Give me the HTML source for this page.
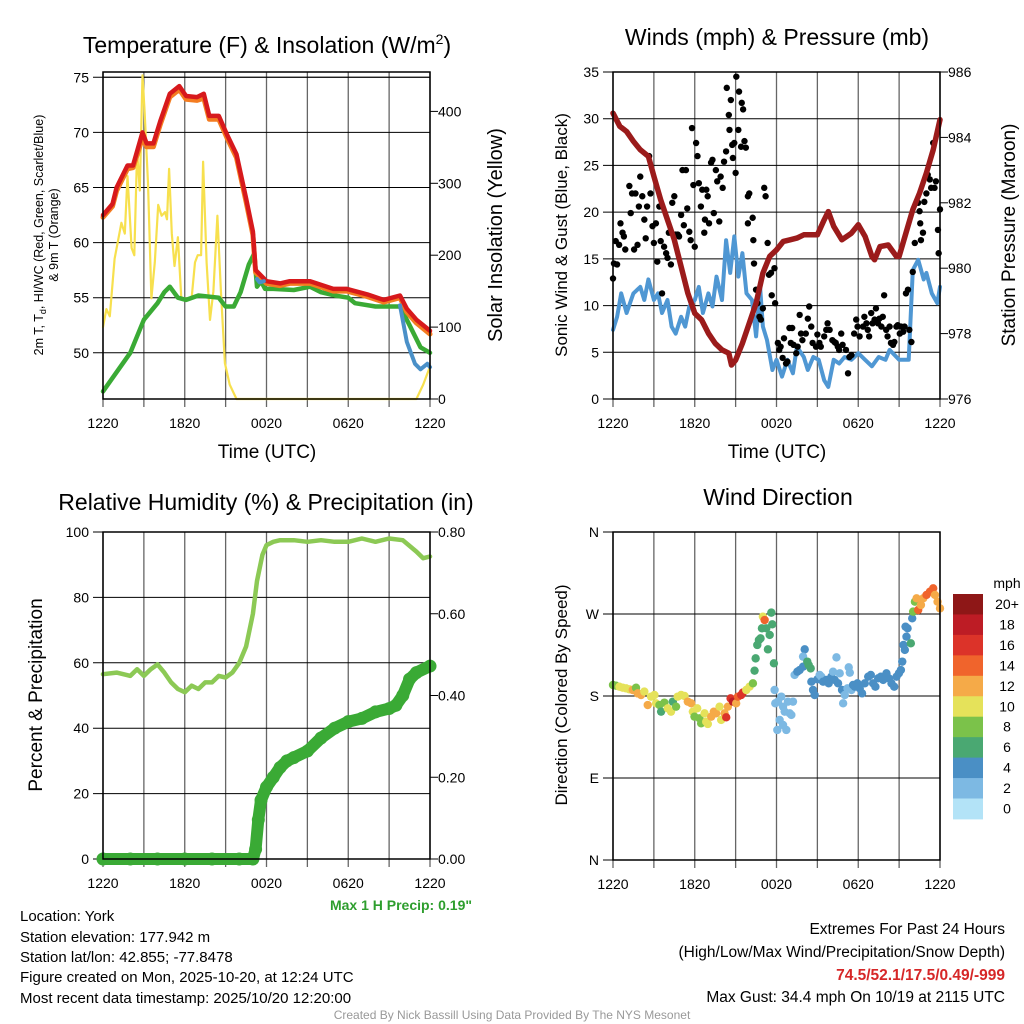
<!DOCTYPE html>
<html><head><meta charset="utf-8"><style>
body{margin:0;background:#fff}
svg{display:block;font-family:"Liberation Sans",sans-serif}
</style></head><body>
<svg id="chart" width="1024" height="1024" viewBox="0 0 1024 1024">
<g id="grid"></g><g id="marks"></g><g id="labels"></g>
<text x="267" y="53" font-size="23" text-anchor="middle">Temperature (F) &amp; Insolation (W/m<tspan font-size="14" dy="-9">2</tspan><tspan dy="9">)</tspan></text>
<text x="777" y="45" font-size="23" text-anchor="middle">Winds (mph) &amp; Pressure (mb)</text>
<text x="266" y="510" font-size="23" text-anchor="middle">Relative Humidity (%) &amp; Precipitation (in)</text>
<text x="778" y="505" font-size="23" text-anchor="middle">Wind Direction</text>
<text transform="translate(43,235) rotate(-90)" font-size="12.5" text-anchor="middle">2m T, T<tspan font-size="9" dy="3">d</tspan><tspan dy="-3">, HI/WC (Red, Green, Scarlet/Blue)</tspan></text>
<text transform="translate(58,235) rotate(-90)" font-size="12.5" text-anchor="middle">&amp; 9m T (Orange)</text>
<text transform="translate(502,235) rotate(-90)" font-size="20" text-anchor="middle">Solar Insolation (Yellow)</text>
<text transform="translate(567,235) rotate(-90)" font-size="17" text-anchor="middle">Sonic Wind &amp; Gust (Blue, Black)</text>
<text transform="translate(1015,235) rotate(-90)" font-size="19" text-anchor="middle">Station Pressure (Maroon)</text>
<text transform="translate(42,695) rotate(-90)" font-size="19" text-anchor="middle">Percent &amp; Precipitation</text>
<text transform="translate(567,695) rotate(-90)" font-size="17" text-anchor="middle">Direction (Colored By Speed)</text>
<text x="267" y="458" font-size="19" text-anchor="middle">Time (UTC)</text>
<text x="777" y="458" font-size="19" text-anchor="middle">Time (UTC)</text>
<text x="472" y="910" font-size="14" font-weight="bold" fill="#2e9e2e" text-anchor="end">Max 1 H Precip: 0.19"</text>
<g font-size="15">
<text x="20" y="921">Location: York</text>
<text x="20" y="942">Station elevation: 177.942 m</text>
<text x="20" y="962">Station lat/lon: 42.855; -77.8478</text>
<text x="20" y="982">Figure created on Mon, 2025-10-20, at 12:24 UTC</text>
<text x="20" y="1003">Most recent data timestamp: 2025/10/20 12:20:00</text>
</g>
<g font-size="15.5" text-anchor="end">
<text x="1005" y="934">Extremes For Past 24 Hours</text>
<text x="1005" y="957">(High/Low/Max Wind/Precipitation/Snow Depth)</text>
<text x="1005" y="980" fill="#d62728" font-weight="bold">74.5/52.1/17.5/0.49/-999</text>
<text x="1005" y="1002">Max Gust: 34.4 mph On 10/19 at 2115 UTC</text>
</g>
<text x="512" y="1019" font-size="12" fill="#999" text-anchor="middle">Created By Nick Bassill Using Data Provided By The NYS Mesonet</text>
<text x="1007" y="588" font-size="14" text-anchor="middle">mph</text>
</svg>
<script>
// ---------- data ----------
const xTickHours=[0,6,12,18,24];
const xTickLabels=["1220","1820","0020","0620","1220"];
const tempTicks=[50,55,60,65,70,75];
const solarTicks=[0,100,200,300,400];
const windTicks=[0,5,10,15,20,25,30,35];
const presTicks=[976,978,980,982,984,986];
const rhTicks=[0,20,40,60,80,100];
const precipTicks=[0,0.2,0.4,0.6,0.8];
const dirTicks=[0,90,180,270,360];
const dirLabels=["N","E","S","W","N"];

const tempHours=[0,0.7,1,1.8,2.2,2.9,3.2,3.7,4.2,4.9,5.6,6.1,6.9,7.4,7.8,8.5,9.1,9.8,10.5,11,11.2,12,13,13.7,15.2,16.9,17.9,19.4,20.6,21.8,22.3,23,24];
const tempF=[62.5,63.5,65,67,67,70,69,69,71,73.5,74.2,73.3,73.2,73.5,71.5,71.5,69.8,68,64,61,57.5,56.5,56.3,56.5,56.5,55.8,55.8,55.3,54.8,55.2,54,53,52];
const temp9mF=[62.3,63.3,64.7,66.7,66.8,69.5,68.7,68.7,70.7,73.2,73.9,73,72.9,73.1,71.2,71.2,69.5,67.7,63.7,60.7,57.3,56.3,56.1,56.3,56.3,55.6,55.6,55.1,54.6,55,53.7,52.7,51.7];
const dewHours=[0,2,3,4,4.5,4.9,5.5,6.1,7,8.5,9,9.6,10.1,10.7,11.1,11.3,11.6,11.9,12.5,14,15.2,16,17,18,18.5,20,21.8,22.5,23.3,24];
const dewF=[46.5,50,53,54.5,55.5,56,55,54.8,55.2,55,54.2,54.2,55.5,58,59,56,56.5,55.8,55.8,55.7,56,55.5,55.2,55,54.5,54.2,54.2,52.5,50.5,50];
const wcHoursA=[11.3,11.5,11.8];
const wcFA=[56.7,56.4,56.5];
const wcHoursB=[21.8,22.3,22.9,23.3,23.8,24];
const wcFB=[54.3,51,49,48.5,49,48.7];
const solarHours=[-0.1,0.25,0.5,0.85,1.1,1.35,1.6,1.8,2.1,2.3,2.5,2.7,2.9,3.05,3.3,3.55,3.8,4.05,4.3,4.55,4.7,4.85,5.05,5.25,5.5,5.75,6.1,6.5,6.75,6.95,7.2,7.35,7.6,7.85,8.1,8.4,8.65,8.95,9.3,9.8,10.3,11,16,21,23,23.5,24];
const solarW=[100,125,115,195,220,245,230,310,210,200,345,290,450,400,300,140,190,270,255,260,250,320,230,185,225,140,140,140,190,200,200,330,190,110,150,255,150,50,20,0,0,0,0,0,0,20,45];

const presHours=[0,0.5,1,1.5,2,2.6,3,3.5,4,4.5,5,5.5,6,6.5,7,7.5,8,8.5,8.7,9,9.5,10,10.5,11,11.5,12,12.5,13,13.5,14,15,15.5,15.8,16.2,16.8,17.5,18,18.5,19,19.2,19.6,20.2,20.8,21,21.5,22,22.5,23,23.5,24];
const presMb=[984.74,984.34,984.18,983.88,983.62,983.42,982.81,982.09,981.48,980.87,980.05,979.23,978.62,978.42,978.01,977.7,977.5,977.4,977.04,977.19,977.7,978.32,978.93,979.85,980.36,980.56,980.82,980.87,980.92,981.02,981.02,981.48,981.73,981.28,980.87,981.07,981.33,980.97,980.36,980.26,980.66,980.71,980.36,980.36,981.07,981.79,982.3,982.91,983.62,984.54];
const windHours=[0,0.3,0.6,1,1.5,2,2.3,2.6,3,3.3,3.6,4,4.3,4.6,5,5.3,5.6,6,6.3,6.6,7,7.3,7.6,8,8.3,8.6,8.9,9.2,9.5,9.8,10.2,10.5,10.8,11,11.3,11.7,12,12.4,12.8,13.2,13.5,14,14.3,14.7,15.1,15.5,15.8,16.2,16.6,17,17.5,18,18.5,19,19.5,20,20.3,21,21.7,22,22.4,22.8,23,23.4,23.8,24];
const windMph=[7.4,8.8,11.3,9.2,11.3,12,10.6,12.8,10.6,11.3,9.2,10.6,7.75,7,8.8,7.75,9.9,10.6,12,9.2,11.3,9.9,13.1,10.6,17,13.5,17.4,13.1,15.6,11.3,10.6,6.7,12,7.75,6.3,3.1,4.2,2.4,4.2,2.75,5.6,4.5,3.1,4.5,4.2,2,1.3,4.2,3.8,4.5,4.2,4.9,4.2,3.5,4.5,4.2,5.25,4.2,4.2,13.8,14.9,12.8,13.5,11.3,10.25,12];
const gustHours=[0,0.07,0.3,0.2,0.45,0.55,0.7,0.8,0.9,1.2,1.3,1.4,1.55,1.65,1.8,1.9,2,2.15,2.3,2.4,2.5,2.65,2.75,2.9,3,3.15,3.25,3.4,3.5,3.6,3.75,3.9,4,4.1,4.25,4.35,4.5,4.6,4.75,4.85,5,5.1,5.2,5.35,5.45,5.6,5.7,5.8,5.9,6,6.1,6.2,6.3,6.45,6.55,6.7,6.75,6.85,6.95,7.05,7.2,7.3,7.4,7.55,7.65,7.8,7.9,8.05,8.15,8.3,8.35,8.5,8.55,8.65,8.75,8.8,8.9,9,9.05,9.2,9.25,9.4,9.45,9.55,9.65,9.75,9.9,10,9.9,10.25,10.3,10.35,10.5,10.6,10.75,10.85,11,11.1,11.2,11.35,11.45,11.6,11.65,11.85,11.9,12.1,12.2,12.3,12.45,12.55,12.7,12.8,12.95,13.05,13.15,13.25,13.45,13.55,13.7,13.8,13.9,14.15,14.3,14.4,14.55,14.65,14.9,15,15.15,15.25,15.5,15.65,15.75,15.9,16.1,16.25,16.35,16.5,16.6,16.75,16.85,17.1,17.25,17.35,17.5,17.7,17.85,17.95,18.1,18.35,18.45,18.6,18.7,18.8,18.95,19.05,19.2,19.3,19.45,19.55,19.7,19.8,19.9,20.05,20.15,20.3,20.4,20.55,20.65,20.8,20.9,21.05,21.15,21.3,21.4,21.5,21.65,21.75,21.9,22,22.15,22.4,22.5,22.55,22.6,22.75,22.85,23,23.1,23.25,23.35,23.5,23.6,23.7,23.85,23.9,24];
const gustMph=[12.9,14.5,14.4,16.9,16.5,18.8,17.8,17.4,16,22.8,19.9,22,16,22,16.5,20.6,23.8,21.7,19.2,17.2,20.6,26,22,18.5,16.7,18.8,14.7,20.6,16.9,11.3,16.3,15.6,15.1,17.8,14.4,21,21.7,17.6,17.6,17.4,19.7,24.5,18.6,24.5,20.4,17.9,17,29,22.9,16.3,27.4,26,23.1,20.6,22.4,17.8,19.2,22.4,21.7,18.8,25.3,25.6,19.9,24.5,23.3,19,23.8,22.6,25.4,26.5,33.3,30.4,28.8,32,27.2,25.8,27.4,24.2,34.5,28.8,32.9,27,31.7,31,27.6,26.9,21.7,22,18.8,19.4,17,14.5,11.7,10.25,8.8,8.5,9.7,22.6,21.7,16.7,13.3,13.5,11.1,14,10.25,6,5.25,5.6,4.4,6.5,3.8,4,7.6,6,7.6,5.8,4.9,5.6,9,7,6.3,7,8.6,9.9,7.75,6,5.6,6.9,6,5.6,6.7,7.4,8.1,7.4,6.3,6.1,6,5.6,5.25,7,5.8,5.25,2.75,4.5,4.7,7,8.5,7.75,6.7,7.75,8.8,8.1,7.4,6.7,9.2,8.1,8.5,9.7,8.1,8.6,7.75,8.8,11.1,7.4,6.7,7.75,6,5.8,6.1,7.75,7.9,7,7.75,7.2,7.75,11.3,11.7,7.4,6.1,13.6,16.7,21,20.1,18.8,17,17.8,21.1,22,24,23.5,22.6,27.4,22.6,23.3,18.1,15.6,20.3];

const rhHours=[0,1,2,2.5,3,3.5,4,4.5,5,5.5,6,6.5,7,7.5,8,8.5,9,9.5,10,10.5,11,11.3,11.7,12,12.5,13,14,15,16,17,18,19,20,21,22,23,23.5,24];
const rhPct=[56.5,57,56,58,56,58,59.5,57,54,52,51,53,52,54,54,56,55.5,57,60,65,75,85,93,96,97,97.5,97.5,97,97.5,97,97,98,97,98,97.5,94,92,92.5];
const precipHours=[0,2,4,6,8,10,11,11.2,11.4,11.6,12,12.5,13,13.5,14,15,16,17,18,19,20,21,21.5,22,22.5,23,24];
const precipIn=[0,0,0,0,0,0,0,0.024,0.096,0.144,0.176,0.2,0.224,0.24,0.248,0.264,0.296,0.32,0.336,0.344,0.36,0.368,0.376,0.4,0.44,0.456,0.472];

const dirHours=[0,0.22,0.47,0.71,0.96,1.2,1.45,1.69,1.81,2.06,2.3,2.55,2.79,3.04,3.16,3.41,3.53,3.77,4.02,4.26,4.39,4.63,4.75,5,5.25,5.49,5.74,5.86,5.98,6.18,6.35,6.47,6.72,6.84,6.96,7.21,7.4,7.57,7.82,7.94,8.19,8.31,8.43,8.63,8.8,9.04,9.17,9.41,9.53,9.78,10.02,10.27,10.39,10.47,10.59,10.71,10.83,10.93,11,11.13,11.25,11.37,11.5,11.62,11.69,11.81,11.86,11.91,12.11,12.23,12.35,12.48,12.6,12.72,12.84,12.97,13.09,13.21,12.06,12.48,13.33,13.53,13.7,13.95,14.07,13.95,14.26,14.36,14.51,14.56,14.68,14.8,15,15.17,15.29,15.42,15.66,15.83,16.03,16.15,16.27,16.4,16.52,16.64,16.81,16.89,17.01,17.21,17.3,17.38,17.5,17.62,17.75,17.94,18.11,18.28,18.48,18.73,18.92,19.09,19.26,19.46,19.66,19.83,20.07,20.25,20.44,20.64,20.81,20.98,21.13,21.23,21.32,21.42,21.47,21.62,21.54,21.86,21.96,22.03,22.16,22.28,22.4,22.6,22.77,23.01,23.26,23.5,23.63,23.82,24];
const dirDeg=[192.1,191.3,190.2,189.1,188.4,187.3,186.6,189.1,182.9,181.1,184.8,170.1,179.3,181.1,172,170.1,162.8,172.7,166.5,162.8,173.8,168.3,179.3,181.1,180,173.8,172,162.8,157.3,166.5,155.5,150,161,151.8,149.3,157.3,162.8,161,168.3,153.7,161,156.6,168.3,177.4,173.8,172,179.3,181.1,183.7,186.6,190.2,193.9,207.8,221.3,236,241.5,243.3,254.3,267.1,263.4,254.3,231.2,247,271.5,258.7,215.9,186.6,172,173.8,153.7,179.3,168.3,162.8,142.7,173.8,161,159.2,173.8,142.7,148.2,203.1,206.7,208.5,212.2,231.2,223.2,217.7,214,210.3,195.7,186.6,181.1,198.3,203.1,201.2,195.7,197.6,193.9,201.2,206.7,197.6,222.4,193.9,204.9,186.6,172,181.1,188.4,211.5,205.6,186.6,192.1,190.2,193.9,188.4,182.9,193.9,201.2,203.1,193.9,190.2,199.4,201.2,197.6,204.9,199.4,193.9,190.2,201.2,204.9,208.5,217.7,236,230.6,256.1,254.3,245.1,237.8,265.3,272.6,283.5,287.2,274.4,279.9,287.2,290.9,294.5,298.2,290.9,283.5,276.2];
const dirSpeed=[8,8,10,10,10,10,12,8,12,12,10,12,10,10,10,8,6,8,10,10,6,8,10,10,10,12,12,10,8,10,8,8,10,10,10,12,12,12,10,10,12,16,12,16,18,12,14,16,16,10,10,8,6,6,6,6,6,6,10,14,6,6,6,6,6,6,2,2,2,2,2,2,2,2,2,2,2,2,2,2,2,4,4,4,4,2,6,6,6,4,4,4,4,2,2,4,4,4,4,2,4,2,4,2,4,2,2,2,2,2,2,4,4,4,4,4,4,4,4,4,4,4,4,4,4,4,4,4,4,4,4,4,4,4,4,4,4,6,4,8,8,12,14,12,12,14,14,14,12,12,12,12];
const legendLabels=["20+","18","16","14","12","10","8","6","4","2","0"];
const speedColors=["#b3e3f7","#7db9e3","#4a8fc5","#4aa872","#7bc24a","#e5e25a","#f5aa48","#f0642c","#dc3329","#bd1c25","#8e1717"];

// ---------- helpers ----------
const NS="http://www.w3.org/2000/svg";
const G=document.getElementById('grid'),M=document.getElementById('marks'),L=document.getElementById('labels');
function mk(tag,attrs,parent){const e=document.createElementNS(NS,tag);for(const k in attrs)e.setAttribute(k,attrs[k]);parent.appendChild(e);return e;}
function panelX(x0){return h=>x0+h*13.625;}
const P=[
 {x0:103,x1:430,y0:72,y1:399},{x0:613,x1:940,y0:72,y1:399},
 {x0:103,x1:430,y0:532,y1:859},{x0:613,x1:940,y0:532,y1:860}];
const yTemp=v=>77.3+(75-v)*11.02, ySolar=v=>399-v*0.719;
const yWind=v=>399-v*9.343, yPres=p=>399-(p-976)*32.7;
const yRH=v=>859-v*3.27, yPrecip=v=>859-v/0.8*327;
const yDir=d=>860-d*0.9111;

function panelFrame(p,i){
  const fx=panelX(p.x0);
  for(let h=0;h<=24;h+=3){
    const l=mk('line',{x1:fx(h),x2:fx(h),y1:p.y0,y2:p.y1+8,stroke:'#666','stroke-width':1.3},G);
    
    
  }
  xTickHours.forEach((h,k)=>{
    const t=mk('text',{x:fx(h),y:p.y1+29,'font-size':14,'text-anchor':'middle'},L);
    t.textContent=xTickLabels[k];
    
    
  });
  const r=mk('rect',{x:p.x0,y:p.y0,width:p.x1-p.x0,height:p.y1-p.y0,fill:'none',stroke:'#000','stroke-width':1.5},L);
  
  
}
function hGrid(p,ticks,fy,labels,side,fmt){
  ticks.forEach((v,k)=>{
    const y=fy(v);
    const l=mk('line',{x1:p.x0-(side==='left'?10:0),x2:p.x1+(side==='right'?8:0),y1:y,y2:y,stroke:'#000','stroke-width':1},G);
    
    
    const t=mk('text',{x:side==='left'?p.x0-14:p.x1+8,y:y+5,'font-size':14,'text-anchor':side==='left'?'end':'start'},L);
    t.textContent=labels?labels[k]:fmt(v);
    
    
  });
}
function rightTicks(p,ticks,fy,fmt){
  ticks.forEach(v=>{
    const y=fy(v);
    const l=mk('line',{x1:p.x1,x2:p.x1+8,y1:y,y2:y,stroke:'#000','stroke-width':1},G);
    
    
    const t=mk('text',{x:p.x1+8,y:y+5,'font-size':14},L);
    t.textContent=fmt(v);
    
    
  });
}
function line(xs,ys,fx,fy,color,w,name){
  const d=xs.map((x,i)=>(i?'L':'M')+fx(x).toFixed(1)+' '+fy(ys[i]).toFixed(1)).join('');
  const e=mk('path',{d:d,fill:'none',stroke:color,'stroke-width':w,'stroke-linejoin':'round','stroke-linecap':'round'},M);
  
  
}
function colorFor(s){let i=Math.min(10,Math.max(0,Math.round(s/2)));return speedColors[i];}

// ---------- panel 1 ----------
const p1=P[0],fx1=panelX(p1.x0);
panelFrame(p1,1);
hGrid(p1,tempTicks,yTemp,null,'left',v=>v);
mk('line',{x1:p1.x0,x2:p1.x1,y1:yTemp(75),y2:yTemp(75),stroke:'#000'},G);
rightTicks(p1,solarTicks,ySolar,v=>v);
line(solarHours.map(h=>Math.max(0,h)),solarW,fx1,ySolar,'#f7e04e',2.2,'solar-insolation-line');
line(dewHours,dewF,fx1,yTemp,'#3aaa35',4.5,'dewpoint-line');
line(tempHours,temp9mF,fx1,yTemp,'#f47c20',5,'temp-9m-line');
line(tempHours,tempF,fx1,yTemp,'#d7191c',4.5,'temp-2m-line');
line(wcHoursA,wcFA,fx1,yTemp,'#4a90c8',4,'heat-index-line-a');
line(wcHoursB,wcFB,fx1,yTemp,'#4a90c8',4,'wind-chill-line-b');

// ---------- panel 2 ----------
const p2=P[1],fx2=panelX(p2.x0);
panelFrame(p2,2);
hGrid(p2,windTicks,yWind,null,'left',v=>v);
rightTicks(p2,presTicks,yPres,v=>v);
line(windHours,windMph,fx2,yWind,'#4f97d3',4,'sonic-wind-line');
gustHours.forEach((h,i)=>{
  const c=mk('circle',{cx:fx2(h),cy:yWind(gustMph[i]),r:3.2,fill:'#000'},M);
  
  
});
line(presHours,presMb,fx2,yPres,'#9b1b1b',5.5,'pressure-line');

// ---------- panel 3 ----------
const p3=P[2],fx3=panelX(p3.x0);
panelFrame(p3,3);
hGrid(p3,rhTicks,yRH,null,'left',v=>v);
rightTicks(p3,precipTicks,yPrecip,v=>v.toFixed(2));
line(rhHours,rhPct,fx3,yRH,'#8cc955',4.5,'relative-humidity-line');
line(precipHours,precipIn,fx3,yPrecip,'#3aaa35',12,'precipitation-line');
precipHours.forEach((h,i)=>{
  const c=mk('circle',{cx:fx3(h),cy:yPrecip(precipIn[i]),r:6.5,fill:'#3aaa35'},M);
  
  
});

// ---------- panel 4 ----------
const p4=P[3],fx4=panelX(p4.x0);
panelFrame(p4,4);
hGrid(p4,dirTicks,yDir,dirLabels,'left');
dirHours.forEach((h,i)=>{
  const c=mk('circle',{cx:fx4(h),cy:yDir(dirDeg[i]),r:4.2,fill:colorFor(dirSpeed[i])},M);
  
  
});
legendLabels.forEach((lab,k)=>{
  const y=594+k*20.45;
  const r=mk('rect',{x:953,y:y,width:30,height:20.9,fill:speedColors[10-k]},L);
  
  
  const t=mk('text',{x:1007,y:y+15,'font-size':14,'text-anchor':'middle'},L);
  t.textContent=lab;
  
  
});
</script>
</body></html>
